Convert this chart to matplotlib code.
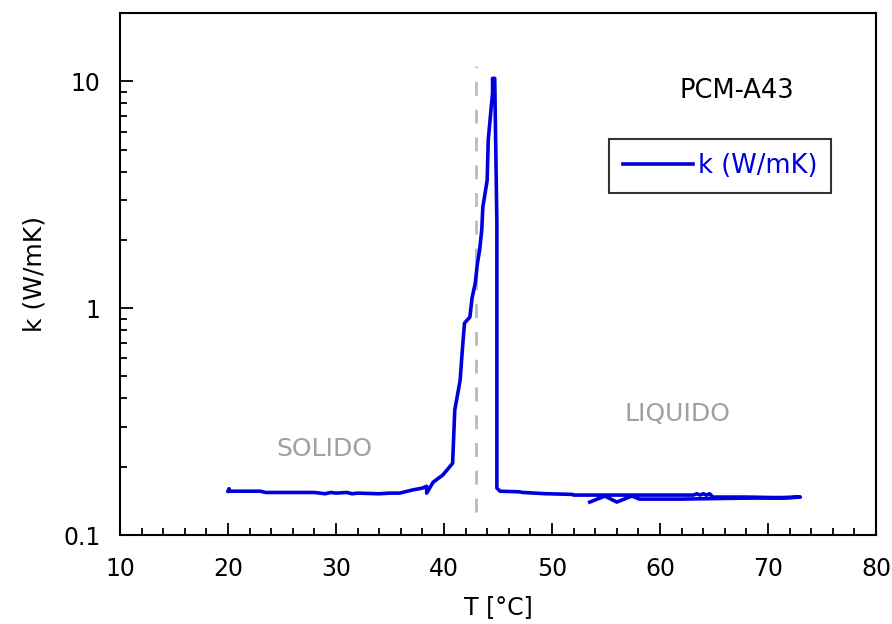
import matplotlib
matplotlib.use("Agg")
import matplotlib.pyplot as plt
from matplotlib.ticker import FixedLocator, FixedFormatter, LogLocator, NullFormatter, MultipleLocator

# Data
T = [20.0, 20.1, 20.2, 23.0, 23.5, 24.0, 28.0, 29.0, 29.5, 30.0, 31.0, 31.5, 32.0, 34.0,
     35.0, 35.9, 37.1, 38.0, 38.4, 38.4, 39.0, 39.9, 40.8, 41.0, 41.5, 41.7, 41.9, 42.4,
     42.6, 42.9, 43.1, 43.3, 43.5, 43.6, 44.0, 44.1, 44.35, 44.5, 44.5, 44.7, 44.9, 44.9,
     45.2, 47.0, 47.3, 49.5, 49.6, 51.9, 52.0, 56.0, 60.0, 63.1, 63.4, 63.7, 64.0, 64.3,
     64.6, 64.9, 68.0, 71.4, 72.0, 73.0,
     71.0, 66.0, 62.0, 58.1, 57.4, 56.0, 54.9, 53.5]
k = [0.156, 0.160, 0.156, 0.156, 0.154, 0.154, 0.154, 0.152, 0.154, 0.153, 0.154, 0.152, 0.153, 0.152,
     0.153, 0.153, 0.158, 0.161, 0.164, 0.153, 0.171, 0.184, 0.207, 0.355, 0.482, 0.653, 0.859, 0.913,
     1.107, 1.29, 1.58, 1.80, 2.21, 2.79, 3.66, 5.50, 7.45, 8.85, 10.3, 10.3, 2.37, 0.161,
     0.156, 0.155, 0.154, 0.152, 0.152, 0.151, 0.150, 0.150, 0.150, 0.150, 0.152, 0.150, 0.152, 0.150,
     0.152, 0.147, 0.147, 0.146, 0.146, 0.147,
     0.146, 0.145, 0.144, 0.144, 0.1485, 0.1397, 0.1485, 0.1397]

t_melt = 43.0
x_ticks = [10, 20, 30, 40, 50, 60, 70, 80]
y_ticks = [0.1, 1, 10]
y_tick_labels = ["0.1", "1", "10"]

plt.rcParams['font.family'] = ['DejaVu Sans']

fig = plt.figure(figsize=(8.92, 6.24), dpi=100)
ax = fig.add_axes([0.1345, 0.1426, 0.8475, 0.8366])

ax.plot(T, k, color='#0000dd', lw=2.6, label='k (W/mK)', zorder=3)
ax.plot([t_melt, t_melt], [0.126, 11.7], color='#bbbbbb', lw=2, ls=(0, (5, 5)), zorder=2)

ax.set_yscale('log')
ax.set_xlim(10, 80)
ax.set_ylim(0.1, 20)

ax.xaxis.set_major_locator(FixedLocator(x_ticks))
ax.xaxis.set_minor_locator(MultipleLocator(2))
ax.yaxis.set_major_locator(FixedLocator(y_ticks))
ax.yaxis.set_major_formatter(FixedFormatter(y_tick_labels))
ax.yaxis.set_minor_locator(LogLocator(base=10, subs=range(2, 10)))
ax.yaxis.set_minor_formatter(NullFormatter())

ax.tick_params(which='both', direction='in', top=False, right=False, width=1.3, labelsize=17, colors='black')
ax.tick_params(which='major', length=9)
ax.tick_params(which='minor', length=5)
ax.tick_params(axis='x', pad=16)
ax.tick_params(axis='y', pad=14)
for s in ax.spines.values():
    s.set_linewidth(1.5)

ax.set_xlabel('T [°C]', fontsize=17, labelpad=10)
ax.set_ylabel('k (W/mK)', fontsize=18, labelpad=12)

ax.text(67.1, 9.1, 'PCM-A43', fontsize=18.5, ha='center', va='center')
ax.text(28.9, 0.239, 'SOLIDO', fontsize=18, color='#a0a0a0', ha='center', va='center')
ax.text(61.6, 0.341, 'LIQUIDO', fontsize=18, color='#a0a0a0', ha='center', va='center')

leg = ax.legend(loc='upper right', bbox_to_anchor=(0.941, 0.759), fontsize=18.5, frameon=True,
                fancybox=False, borderpad=0.55, borderaxespad=0, handlelength=2.7,
                handletextpad=0.2, labelcolor='#0000dd')
leg.get_frame().set_edgecolor('black')
leg.get_frame().set_linewidth(1.5)

fig.savefig('out.png', dpi=100)
